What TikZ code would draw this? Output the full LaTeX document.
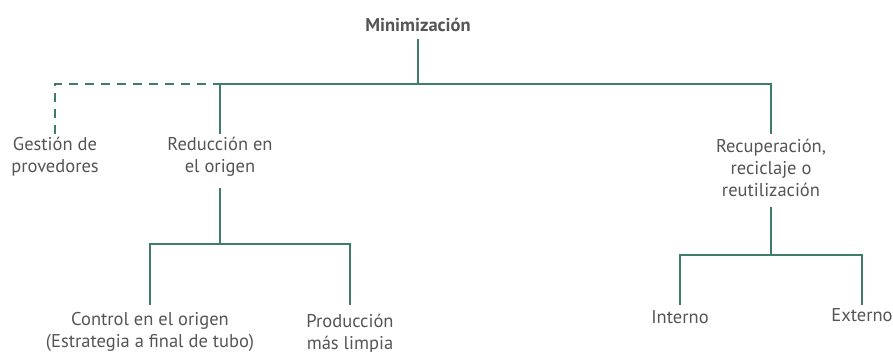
\documentclass[tikz,border=0pt]{standalone}
\usepackage{fontspec}
\setmainfont{PT Sans}
\definecolor{lnc}{HTML}{3E7D6B}
\definecolor{txc}{HTML}{555555}
\begin{document}
\begin{tikzpicture}[x=1pt,y=-1pt,
  lbl/.style={align=center,inner sep=0pt,text=txc,font=\fontsize{18.5}{22}\selectfont},
  ln/.style={draw=lnc,line width=2.6pt},
  dln/.style={ln,dash pattern=on 9pt off 7pt}]
\useasboundingbox (0,0) rectangle (893,352);
\node[lbl,font=\fontsize{18.5}{22}\selectfont\bfseries] (min) at (418,25) {Minimización};
\node[lbl] (ges) at (55,157) {Gestión de\\provedores};
\node[lbl] (red) at (220,157) {Reducción en\\el origen};
\node[lbl] (rec) at (771,168) {Recuperación,\\reciclaje o\\reutilización};
\node[lbl] (ctrl) at (150,332) {Control en el origen\\(Estrategia a final de tubo)};
\node[lbl] (prod) at (350,334) {Producción\\más limpia};
\node[lbl] (int) at (680,317) {Interno};
\node[lbl] (ext) at (862,315) {Externo};
% levels of line ends
\coordinate (yMin) at (0,39);
\coordinate (yTop) at (0,134);
\coordinate (yRed) at (0,188);
\coordinate (yRec) at (0,207);
\coordinate (yLow) at (0,305);
% junctions
\coordinate (j0) at (418,84);
\coordinate (jl) at (220,84);
\coordinate (j1) at (220,244);
\coordinate (j2) at (771,255);
% top level
\draw[ln] (min |- yMin) -- (j0);
\draw[ln] (red |- yTop) |- (j0) -| (rec |- yTop);
\draw[dln] (ges |- yTop) |- (jl);
% second level
\draw[ln] (red |- yRed) -- (j1);
\draw[ln] (ctrl |- yLow) |- (j1) -| (prod |- yLow);
\draw[ln] (rec |- yRec) -- (j2);
\draw[ln] (int |- yLow) |- (j2) -| (ext |- yLow);
\end{tikzpicture}
\end{document}
